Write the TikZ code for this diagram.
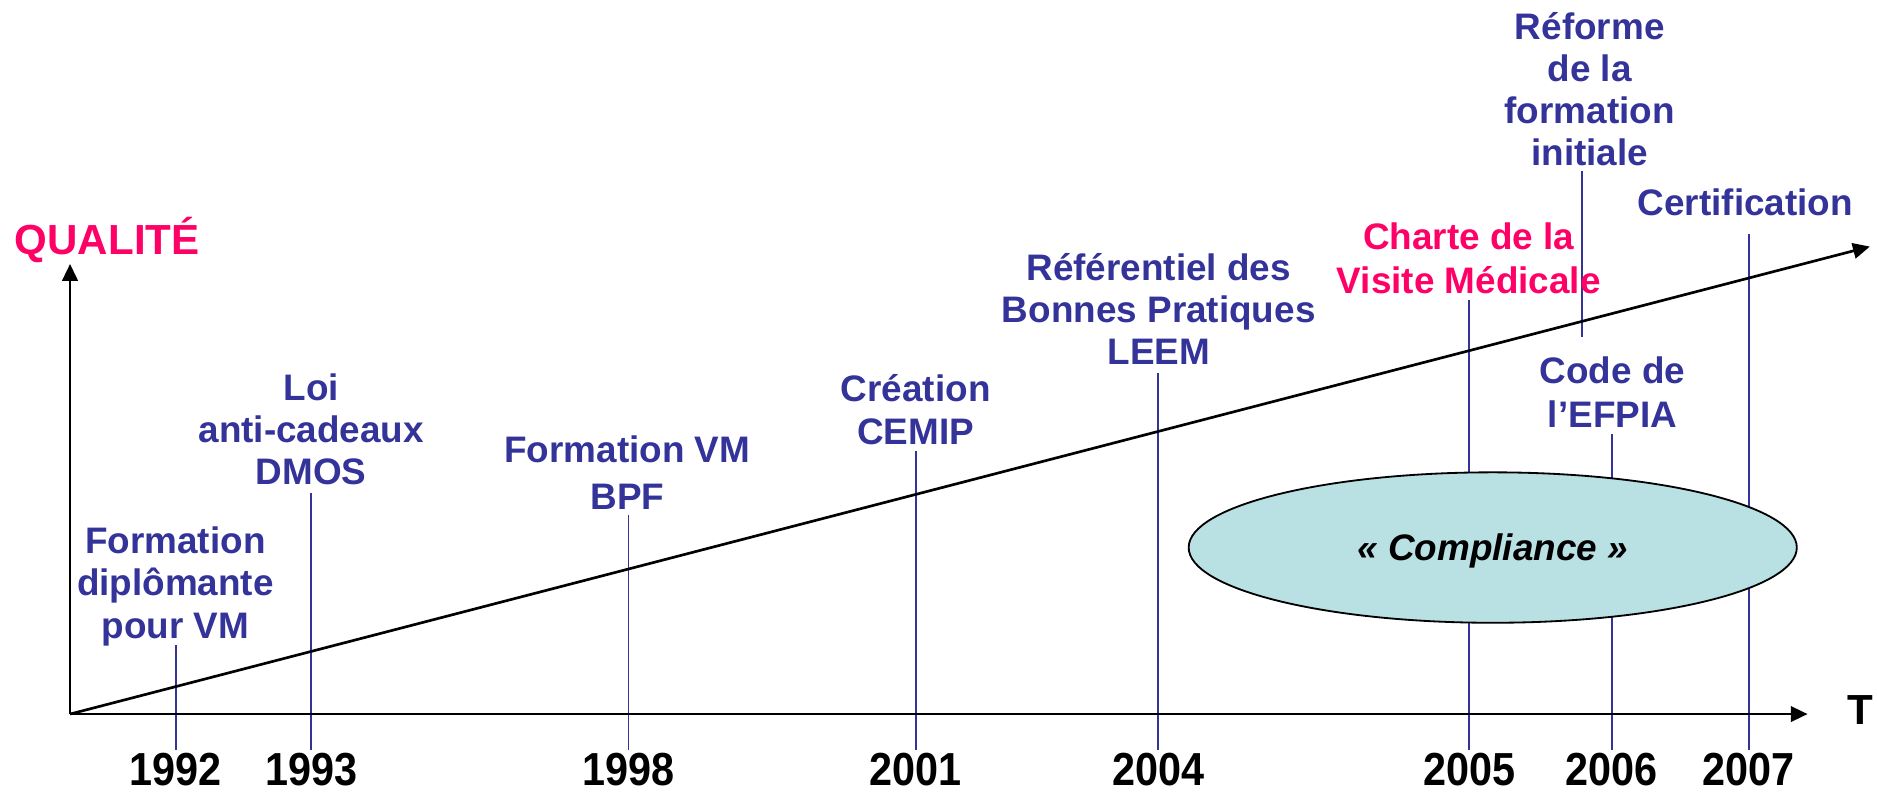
\documentclass[tikz,border=0pt]{standalone}
\usepackage{fontspec}
\setmainfont{Liberation Sans}
\usetikzlibrary{shapes.geometric,arrows.meta}
\definecolor{qblue}{RGB}{51,51,153}
\definecolor{qpink}{RGB}{255,0,102}
\definecolor{qfill}{RGB}{185,224,227}
\tikzset{
  lbl/.style={inner sep=0pt, anchor=base, text=qblue, font=\bfseries\fontsize{26.3}{30}\selectfont},
  pinklbl/.style={lbl, text=qpink},
  yr/.style={inner sep=0pt, anchor=base, text=black, font=\bfseries\fontsize{29.5}{34}\selectfont},
  tickline/.style={draw=qblue, line width=1.3pt},
  axisline/.style={draw=black, line width=1.9pt, -{Triangle[length=12pt,width=11pt]}},
}
\newcommand{\ml}[1]{\begin{tabular}[b]{@{}c@{}}#1\end{tabular}}
\newcommand{\tallyr}[1]{\scalebox{1}[1.12]{#1}}
\begin{document}
\begin{tikzpicture}[x=0.03cm, y=-0.03cm]
\useasboundingbox (0,0) rectangle (1568,663);
% tick lines
\foreach \n/\x/\t in {92/147/539, 93/260/412, 98/525/430, 01/765/376.5, 04/967.6/311.9, 05/1227.3/250.6, 06/1346.3/362.5, 07/1460.8/195.7}{
  \coordinate (top\n) at (\x,\t);
  \coordinate (bot\n) at (\x,626.5);
  \draw[tickline] (top\n) -- (bot\n);
}
\coordinate (reftop) at (1321.5,142.6);
\coordinate (refbot) at (1321.5,281.8);
\draw[tickline] (reftop) -- (refbot);
% ellipse
\node[ellipse, draw=black, line width=1.3pt, fill=qfill, inner sep=0pt,
      minimum width=15.24cm, minimum height=3.77cm,
      text height=24pt, text depth=5.5pt,
      font=\bfseries\itshape\fontsize{26.3}{30}\selectfont] (compl) at (1247,457.4) {« Compliance »};
% axes
\coordinate (origin) at (58.5,596.5);
\coordinate (ytip) at (58.5,220.5);
\coordinate (xtip) at (1510,596.5);
\coordinate (dtip) at (1562,206);
\draw[axisline] (origin) -- (ytip);
\draw[axisline] (origin) -- (xtip);
\draw[axisline] (origin) -- (dtip);
% axis labels
\node[inner sep=0pt, anchor=base, text=qpink, font=\bfseries\fontsize{30}{34}\selectfont] (qual) at (89.5,212.6) {QUALITÉ};
\node[inner sep=0pt, anchor=base, font=\bfseries\fontsize{30}{34}\selectfont] (tlab) at (1554.2,605.6) {T};
% years
\node[yr] (y1992) at (147,656) {\tallyr{1992}};
\node[yr] (y1993) at (260,656) {\tallyr{1993}};
\node[yr] (y1998) at (525,656) {\tallyr{1998}};
\node[yr] (y2001) at (765,656) {\tallyr{2001}};
\node[yr] (y2004) at (967.6,656) {\tallyr{2004}};
\node[yr] (y2005) at (1227.3,656) {\tallyr{2005}};
\node[yr] (y2006) at (1346.3,656) {\tallyr{2006}};
\node[yr] (y2007) at (1460.8,656) {\tallyr{2007}};
% event labels
\node[lbl] (ev92) at (146.5,533) {\ml{Formation\\diplômante\\pour VM}};
\node[lbl] (ev93) at (260,405) {\ml{Loi\\anti-cadeaux\\DMOS}};
\node[lbl] (ev98) at (524,425.5) {\ml{Formation VM\\[3.3pt]BPF}};
\node[lbl] (ev01) at (765,370.9) {\ml{Création\\CEMIP}};
\node[lbl] (ev04) at (968,304.9) {\ml{Référentiel des\\Bonnes Pratiques\\LEEM}};
\node[pinklbl] (ev05) at (1227,245) {\ml{Charte de la\\[1.2pt]Visite Médicale}};
\node[lbl] (evref) at (1328,138.4) {\ml{Réforme\\de la\\formation\\initiale}};
\node[lbl] (ev07) at (1458,180.4) {Certification};
\node[lbl] (ev06) at (1347,357) {\ml{Code de\\[1.6pt]l’EFPIA}};
\end{tikzpicture}
\end{document}
